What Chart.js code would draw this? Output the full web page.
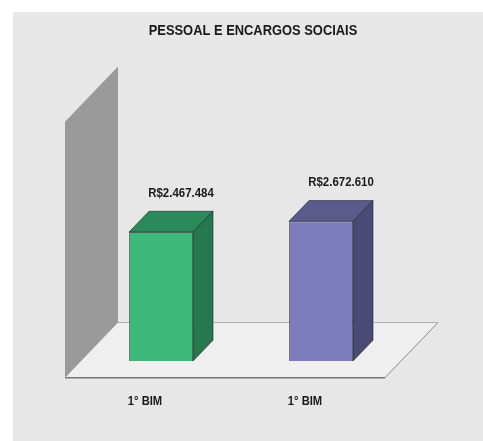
<!DOCTYPE html>
<html>
<head>
<meta charset="utf-8">
<script src="https://cdn.jsdelivr.net/npm/chart.js@4/dist/chart.umd.min.js"></script>
<style>
  html, body { margin: 0; padding: 0; background: #fff; }
  canvas { display: block; }
</style>
</head>
<body>
<canvas id="despesaChart" width="483" height="441"></canvas>
<script>
const title = 'PESSOAL E ENCARGOS SOCIAIS';
const categories = ['1° BIM', '1° BIM'];
const values = [2467484, 2672610];
const axisMax = 4900000;

const frontColors = ['#3cb879', '#7c7bbc'];
const topColors = ['#2b8a5a', '#5a5a8c'];
const sideColors = ['#26784e', '#4a4a75'];

const FONT = '"Liberation Sans", Arial, sans-serif';

// fake 3D: depth offsets measured from the bar front plane
const SLOPE = 1.04;
const FLOOR_FRONT = -16;
const BAR_DEPTH = 20;
const WALL_BACK = 37;

function proj(x, y, k) {
  return [x + k, y - k * SLOPE];
}

function poly(ctx, pts, fill, stroke, lw) {
  ctx.beginPath();
  ctx.moveTo(pts[0][0], pts[0][1]);
  for (let i = 1; i < pts.length; i++) ctx.lineTo(pts[i][0], pts[i][1]);
  ctx.closePath();
  if (fill) { ctx.fillStyle = fill; ctx.fill(); }
  if (stroke) { ctx.strokeStyle = stroke; ctx.lineWidth = lw || 1; ctx.stroke(); }
}

// bold text squeezed horizontally, like a narrow face
function narrowText(ctx, text, x, y, size, squeeze) {
  ctx.save();
  ctx.translate(x, y);
  ctx.scale(squeeze, 1);
  ctx.font = 'bold ' + size + 'px ' + FONT;
  ctx.fillStyle = '#1a1a1a';
  ctx.textAlign = 'center';
  ctx.textBaseline = 'middle';
  ctx.fillText(text, 0, 0);
  ctx.restore();
}

function formatReais(v) {
  return 'R$' + String(v).replace(/\B(?=(\d{3})+(?!\d))/g, '.');
}

const box3d = {
  id: 'box3d',
  beforeDraw(chart) {
    const ctx = chart.ctx;
    ctx.save();
    ctx.fillStyle = '#ffffff';
    ctx.fillRect(0, 0, chart.width, chart.height);
    ctx.fillStyle = '#e7e7e7';
    ctx.fillRect(13, 12, chart.width - 13, chart.height - 12);
    ctx.restore();
    narrowText(ctx, title, 253, 31, 15, 0.86);
  },
  beforeDatasetsDraw(chart) {
    const ctx = chart.ctx;
    const a = chart.chartArea;
    ctx.save();
    // floor
    const fl = proj(a.left, a.bottom, FLOOR_FRONT);
    const fr = proj(a.right, a.bottom, FLOOR_FRONT);
    const br = proj(a.right, a.bottom, WALL_BACK);
    const bl = proj(a.left, a.bottom, WALL_BACK);
    poly(ctx, [fl, fr, br, bl], '#efefef');
    ctx.lineWidth = 1;
    ctx.strokeStyle = '#b0b0b0';
    ctx.beginPath();
    ctx.moveTo(bl[0], bl[1]); ctx.lineTo(br[0], br[1]);
    ctx.stroke();
    ctx.strokeStyle = '#8a8a8a';
    ctx.beginPath();
    ctx.moveTo(br[0], br[1]); ctx.lineTo(fr[0], fr[1]);
    ctx.stroke();
    ctx.strokeStyle = '#777777';
    ctx.lineWidth = 1.5;
    ctx.beginPath();
    ctx.moveTo(fl[0], fl[1]); ctx.lineTo(fr[0], fr[1]);
    ctx.stroke();
    // side wall
    poly(ctx, [
      proj(a.left, a.top, FLOOR_FRONT),
      proj(a.left, a.top, WALL_BACK),
      proj(a.left, a.bottom, WALL_BACK),
      proj(a.left, a.bottom, FLOOR_FRONT)
    ], '#9a9a9a');
    ctx.restore();
  },
  afterDatasetsDraw(chart) {
    const ctx = chart.ctx;
    const a = chart.chartArea;
    const meta = chart.getDatasetMeta(0);
    ctx.save();
    meta.data.forEach((bar, i) => {
      const l = bar.x - bar.width / 2;
      const r = bar.x + bar.width / 2;
      const top = bar.y;
      const base = bar.base;
      poly(ctx, [[l, top], [r, top], proj(r, top, BAR_DEPTH), proj(l, top, BAR_DEPTH)],
        topColors[i], 'rgba(20,30,30,0.55)', 1);
      poly(ctx, [[r, top], [r, base], proj(r, base, BAR_DEPTH), proj(r, top, BAR_DEPTH)],
        sideColors[i], 'rgba(20,30,30,0.55)', 1);

      // value above the back edge of the box
      const lp = proj(bar.x, top, BAR_DEPTH);
      narrowText(ctx, formatReais(values[i]), lp[0], lp[1] - 18, 13, 0.88);

      // category name on the front edge of the floor
      const cp = proj(bar.x, a.bottom, FLOOR_FRONT);
      narrowText(ctx, categories[i], cp[0], cp[1] + 24, 13, 0.86);
    });
    ctx.restore();
  }
};

new Chart(document.getElementById('despesaChart'), {
  type: 'bar',
  data: {
    labels: categories,
    datasets: [{
      data: values,
      backgroundColor: frontColors,
      borderColor: 'rgba(20,30,30,0.55)',
      borderWidth: 1,
      barPercentage: 0.4,
      categoryPercentage: 1
    }]
  },
  options: {
    responsive: false,
    animation: false,
    layout: { padding: { left: 81, right: 82, top: 105, bottom: 80 } },
    plugins: {
      legend: { display: false },
      tooltip: { enabled: false },
      title: { display: false }
    },
    scales: {
      x: { display: false },
      y: { display: false, min: 0, max: axisMax }
    }
  },
  plugins: [box3d]
});
</script>
</body>
</html>
